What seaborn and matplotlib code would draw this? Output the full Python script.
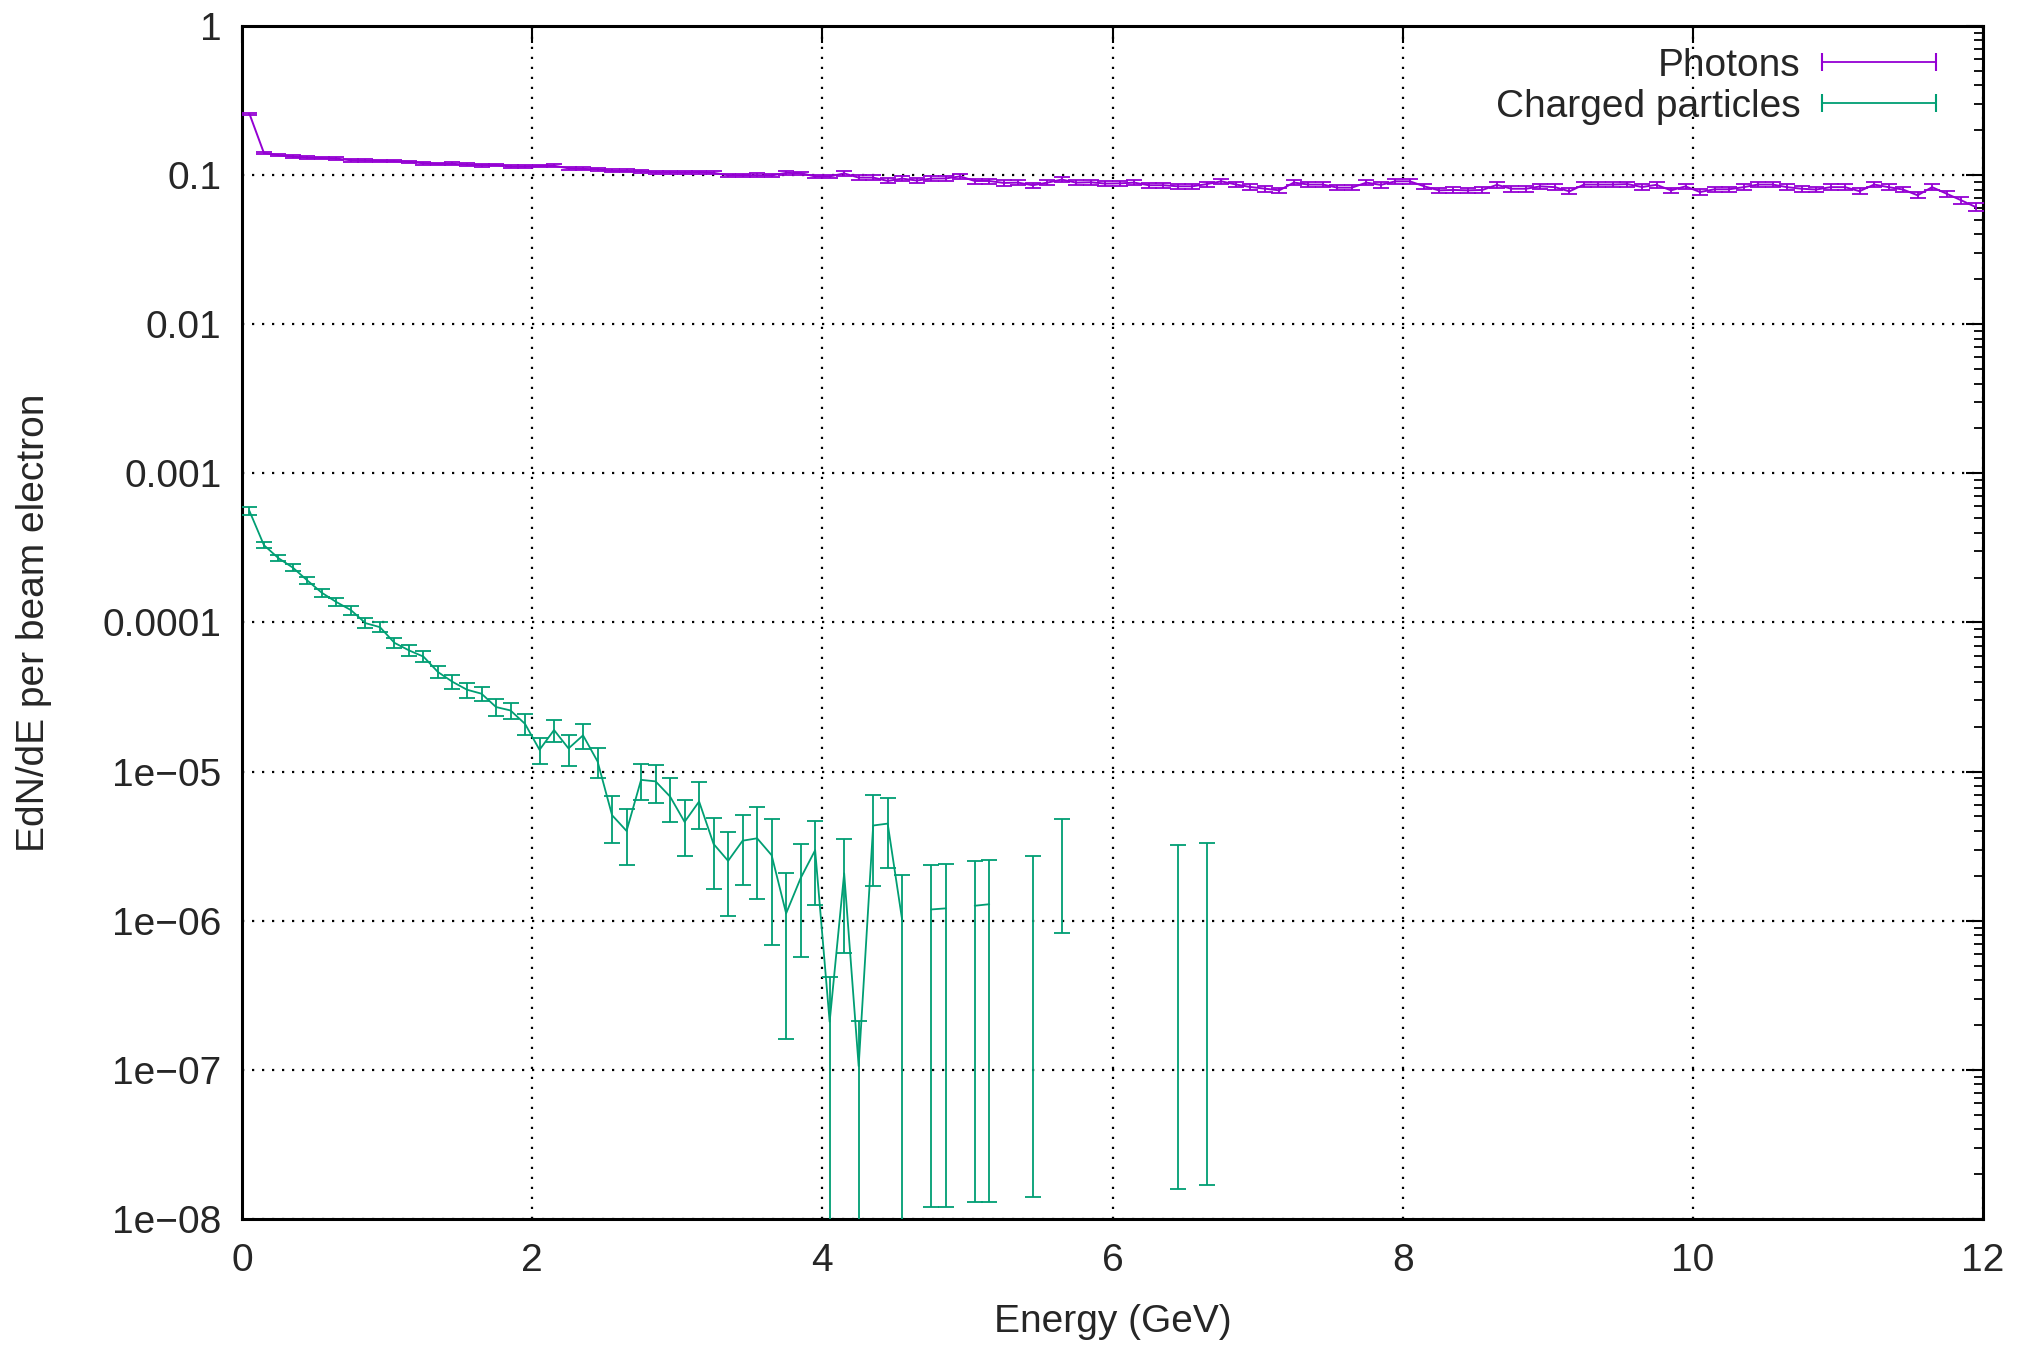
import numpy as np
import seaborn as sns
import matplotlib
matplotlib.use("Agg")
from matplotlib import pyplot as plt
from matplotlib.lines import Line2D
from matplotlib.ticker import FixedLocator, LogLocator, NullFormatter

# 0.1 GeV bins from 0 to 12 GeV, values at bin centres
bin_centres = np.round(np.arange(0.05, 12.0, 0.1), 2)

photon_flux = [
    0.258, 0.1406, 0.136, 0.133, 0.131, 0.130, 0.129, 0.1257, 0.125, 0.1244,
    0.124, 0.1226, 0.120, 0.1187, 0.119, 0.1175, 0.1163, 0.117, 0.114, 0.114,
    0.115, 0.1155, 0.111, 0.110, 0.1094, 0.1066, 0.1066, 0.1062, 0.104, 0.1045,
    0.104, 0.1047, 0.1035, 0.0997, 0.0997, 0.100, 0.0995, 0.1034, 0.103, 0.098,
    0.098, 0.1026, 0.0962, 0.0962, 0.0914, 0.0947, 0.092, 0.0947, 0.095, 0.098,
    0.0913, 0.0913, 0.0886, 0.089, 0.0855, 0.089, 0.0933, 0.089, 0.0895, 0.0877,
    0.088, 0.089, 0.0855, 0.0855, 0.0841, 0.0841, 0.087, 0.0908, 0.0865, 0.0832,
    0.0811, 0.079, 0.0891, 0.0864, 0.0864, 0.0824, 0.0824, 0.089, 0.086, 0.0908,
    0.0908, 0.084, 0.079, 0.0795, 0.079, 0.0795, 0.086, 0.081, 0.081, 0.084,
    0.083, 0.0778, 0.0864, 0.0864, 0.0864, 0.087, 0.0832, 0.086, 0.079, 0.084,
    0.077, 0.0803, 0.0803, 0.083, 0.0864, 0.0864, 0.083, 0.081, 0.080, 0.083,
    0.083, 0.078, 0.0864, 0.083, 0.080, 0.0732, 0.083, 0.075, 0.0678, 0.0611,
]
photon_err = [0.004] + [0.0025] * 40 + [0.0035] * 79

nan = float("nan")
# empty bins are nan so the line breaks there, like gnuplot on a log axis
charged_flux = [
    5.6e-4, 3.3e-4, 2.7e-4, 2.33e-4, 1.91e-4, 1.58e-4, 1.37e-4, 1.21e-4, 9.9e-5, 9.3e-5,
    7.3e-5, 6.5e-5, 5.9e-5, 4.65e-5, 4.0e-5, 3.54e-5, 3.33e-5, 2.71e-5, 2.57e-5, 2.09e-5,
    1.40e-5, 1.90e-5, 1.43e-5, 1.75e-5, 1.17e-5, 5.1e-6, 4.0e-6, 8.8e-6, 8.6e-6, 6.8e-6,
    4.6e-6, 6.3e-6, 3.27e-6, 2.52e-6, 3.44e-6, 3.57e-6, 2.75e-6, 1.12e-6, 1.93e-6, 2.97e-6,
    2.1e-7, 2.08e-6, 1.06e-7, 4.35e-6, 4.48e-6, 1.01e-6, nan, 1.19e-6, 1.21e-6, nan,
    1.26e-6, 1.29e-6, nan, nan, 1.36e-6, nan, 2.83e-6, nan, nan, nan,
    nan, nan, nan, nan, 1.62e-6, nan, 1.66e-6,
]
charged_err = [
    3.6e-5, 1.5e-5, 1.3e-5, 1.2e-5, 1.1e-5, 9.5e-6, 8.8e-6, 8.2e-6, 7.4e-6, 7.2e-6,
    5.4e-6, 5.1e-6, 4.9e-6, 4.4e-6, 4.1e-6, 4.1e-6, 3.7e-6, 3.4e-6, 3.3e-6, 3.3e-6,
    2.7e-6, 3.3e-6, 3.4e-6, 3.4e-6, 2.6e-6, 1.78e-6, 1.63e-6, 2.4e-6, 2.4e-6, 2.2e-6,
    1.87e-6, 2.2e-6, 1.63e-6, 1.44e-6, 1.7e-6, 2.18e-6, 2.06e-6, 0.96e-6, 1.36e-6, 1.7e-6,
    2.1e-7, 1.47e-6, 1.06e-7, 2.65e-6, 2.22e-6, 1.01e-6, nan, 1.178e-6, 1.198e-6, nan,
    1.247e-6, 1.277e-6, nan, nan, 1.346e-6, nan, 2.0e-6, nan, nan, nan,
    nan, nan, nan, nan, 1.604e-6, nan, 1.643e-6,
]

x_ticks = [0, 2, 4, 6, 8, 10, 12]
y_ticks = [1e-8, 1e-7, 1e-6, 1e-5, 1e-4, 1e-3, 1e-2, 1e-1, 1]
y_tick_labels = ["1e\u221208", "1e\u221207", "1e\u221206", "1e\u221205", "0.0001",
                 "0.001", "0.01", "0.1", "1"]

photon_color = "#9400d3"
charged_color = "#009e73"
fs = 28

sns.set_style("white")
plt.rcParams["font.family"] = ["Liberation Sans", "DejaVu Sans"]
plt.rcParams["font.size"] = fs

fig = plt.figure(figsize=(20.18, 13.45), dpi=100)
ax = fig.add_axes([0.12, 0.0937, 0.8626, 0.887])

ax.errorbar(bin_centres, photon_flux, yerr=photon_err, color=photon_color,
            lw=1.4, elinewidth=1.3, capsize=6, capthick=1.3, zorder=3)
ax.errorbar(bin_centres[:len(charged_flux)], charged_flux, yerr=charged_err,
            color=charged_color, lw=1.3, elinewidth=1.3, capsize=6,
            capthick=1.3, zorder=3)

ax.set_yscale("log")
ax.set_xlim(0, 12)
ax.set_ylim(1e-8, 1)

ax.xaxis.set_major_locator(FixedLocator(x_ticks))
ax.set_xticklabels([str(t) for t in x_ticks])
ax.yaxis.set_major_locator(FixedLocator(y_ticks))
ax.set_yticklabels(y_tick_labels)
ax.yaxis.set_minor_locator(LogLocator(base=10, subs=np.arange(2, 10), numticks=20))
ax.yaxis.set_minor_formatter(NullFormatter())

ax.tick_params(which="both", direction="in", top=True, right=True,
               color="black", labelsize=fs)
ax.tick_params(which="major", length=12, width=1.5)
ax.tick_params(axis="y", which="major", pad=15)
ax.tick_params(axis="x", which="major", pad=17)
ax.tick_params(which="minor", length=6.5, width=1.3)

ax.grid(True, which="major", color="black", lw=1.6, ls=(0, (1, 3.5)))
for spine in ax.spines.values():
    spine.set_color("black")
    spine.set_linewidth(2.2)

ax.set_xlabel("Energy (GeV)", fontsize=fs)
ax.set_ylabel("EdN/dE per beam electron", fontsize=fs)
ax.xaxis.set_label_coords(0.5, -0.0714)
ax.yaxis.set_label_coords(-0.109, 0.5)

handles = [
    Line2D([], [], color=photon_color, lw=1.3, marker="|", markersize=13,
           markeredgewidth=1.5),
    Line2D([], [], color=charged_color, lw=1.3, marker="|", markersize=13,
           markeredgewidth=1.5),
]
ax.legend(handles, ["Photons", "Charged particles"], loc="upper right",
          bbox_to_anchor=(0.980, 0.9815), frameon=False, markerfirst=False,
          numpoints=2, handlelength=3.55, handletextpad=0.25, labelspacing=0.12,
          borderpad=0, borderaxespad=0, fontsize=fs)

fig.savefig("out.png", dpi=100)
